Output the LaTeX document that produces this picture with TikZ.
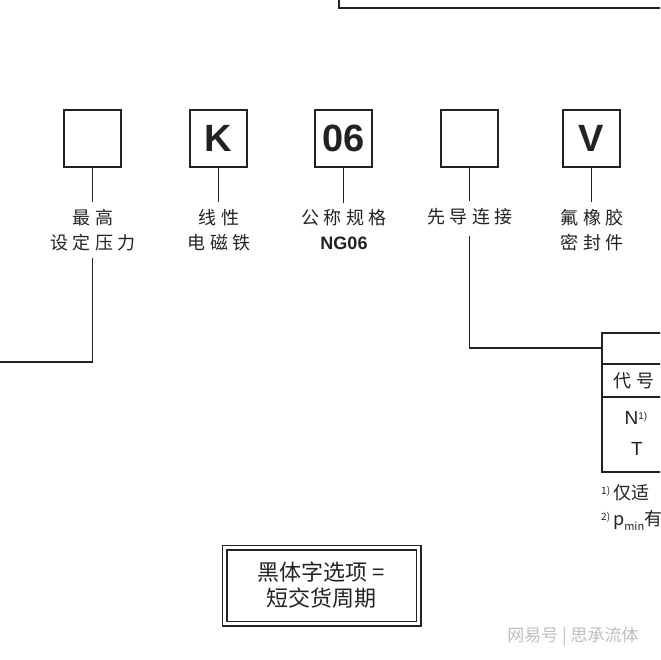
\documentclass[tikz,border=0pt]{standalone}
\usepackage{fontspec}
\setmainfont{Liberation Sans}
\newfontfamily\cjk{Noto Sans CJK SC}
\newfontfamily\cjkwide[LetterSpace=25]{Noto Sans CJK SC}
\usetikzlibrary{positioning}
\definecolor{inkgray}{RGB}{34,34,34}
\definecolor{markgray}{RGB}{190,190,190}

\begin{document}
\begin{tikzpicture}[
        x=1pt, y=-1pt,
        every node/.style={align=center, text=inkgray},
        codebox/.style={rectangle, draw=inkgray, line width=1.4pt,
                        minimum width=57pt, minimum height=57pt, inner sep=0pt,
                        font=\fontsize{38}{40}\selectfont\bfseries},
        partname/.style={font=\cjkwide\fontsize{18}{25}\selectfont, inner sep=0pt},
        link/.style={draw=inkgray, line width=1.3pt},
        frame/.style={draw=inkgray, line width=1.4pt},
        note/.style={anchor=west, inner sep=0pt, font=\cjk\fontsize{18}{20}\selectfont}
    ]
        % Page area
        \clip (0,0) rectangle (660,660);

        % Box at the top, cut by the page edge
        \draw[inkgray, line width=1.8pt] (339,-20) rectangle (700,8);

        % Code boxes
        \node [codebox] (b1) at (92.5,138.5) {};
        \node [codebox] (b2) at (218.5,138.5) {K};
        \node [codebox] (b3) at (343.5,138.5) {06};
        \node [codebox] (b4) at (469.5,138.5) {};
        \node [codebox] (b5) at (591.5,138.5) {V};

        % Names below the boxes
        \node [partname] (p1) at (93,230) {最高\\设定压力};
        \node [partname] (p2) at (219,230) {线性\\电磁铁};
        \node [partname] (p3) at (344,230) {公称规格\\{\normalfont\bfseries\fontsize{18}{25}\selectfont NG06}};
        \node [partname] (p4) at (470,217) {先导连接};
        \node [partname] (p5) at (592,230) {氟橡胶\\密封件};

        % Stems
        \foreach \i in {1,...,5}
            \draw[link, shorten >=7pt] (b\i.south) -- (b\i.south |- p\i.north);

        % Runs to the left edge and to the table
        \coordinate (leftend) at (0,362);
        \coordinate (tabjoin) at (602,348);
        \draw[link] (92.5,258) |- (leftend);
        \draw[link] (469.5,236) |- (tabjoin);

        % Table, cut by the page edge
        \draw[frame] (700,333) -| (602,472) -- (700,472);
        \draw[frame] (602,364) -- (700,364);
        \draw[frame] (602,397) -- (700,397);
        \node [partname] (hcode) at (634,381) {代号};
        \node [inner sep=0pt, font=\fontsize{19}{20}\selectfont] (rown) at (636,418)
            {N\raisebox{5pt}{\fontsize{10}{10}\selectfont 1)}};
        \node [inner sep=0pt, font=\fontsize{19}{20}\selectfont] (rowt) at (637,449) {T};

        % Footnotes
        \node [note] (fn1) at (601,493) {\raisebox{5pt}{\fontsize{10}{10}\selectfont 1)}\,仅适};
        \node [note] (fn2) at (601,520)
            {\raisebox{5pt}{\fontsize{10}{10}\selectfont 2)}\,p\raisebox{-5pt}{\fontsize{11}{11}\selectfont min}有};

        % Short delivery note
        \node [draw=inkgray, double, double distance=3.6pt, line width=1.2pt,
               minimum width=194pt, minimum height=76pt, inner sep=0pt,
               font=\cjk\fontsize{22}{26}\selectfont] (shortnote) at (321.5,585.5)
            {黑体字选项 =\\短交货周期};

        % Watermark
        \node [text=markgray, inner sep=0pt, font=\cjk\fontsize{17}{17}\selectfont] (wmark) at (573,637)
            {网易号 | 思承流体};
    \end{tikzpicture}
\end{document}
